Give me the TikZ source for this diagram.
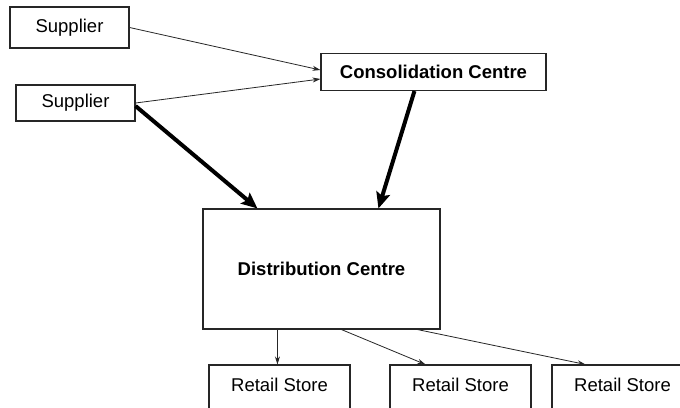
\documentclass[tikz,border=0pt]{standalone}
\usepackage{fontspec}
\setmainfont{Liberation Sans}
\usetikzlibrary{calc,arrows.meta}
\begin{document}
\begin{tikzpicture}[x=1pt,y=-1pt,
  lbl/.style={font=\fontsize{18.5}{21}\selectfont},
  box/.style={draw=black!85,line width=1.1pt,rectangle,inner sep=0pt,lbl},
  thin/.style={draw=black!85,line width=0.8pt,-{Stealth[length=8pt,width=5pt]}},
  thick/.style={draw=black,line width=4pt,-{Stealth[length=16pt,width=14pt,inset=3pt]}}]
\useasboundingbox (0,0) rectangle (680,407);
\clip (0,0) rectangle (680,407);
\fill[white] (0,0) rectangle (680,407);
\node[box,minimum width=119pt,minimum height=41pt] (s1) at (69.5,27.5) {Supplier};
\node[box,minimum width=119pt,minimum height=36pt] (s2) at (75.5,103) {Supplier};
\node[box,minimum width=225pt,minimum height=37pt,font=\fontsize{18.5}{21}\selectfont\bfseries] (cc) at (433.5,72) {Consolidation Centre};
\node[box,minimum width=237pt,minimum height=120pt,font=\fontsize{18.5}{21}\selectfont\bfseries] (dc) at (321.5,269) {Distribution Centre};
\node[box,minimum width=141pt,minimum height=44pt] (r1) at (279.5,387) {};
\node[box,minimum width=141pt,minimum height=44pt] (r2) at (460.5,387) {};
\node[box,minimum width=141pt,minimum height=44pt] (r3) at (622.5,387) {};
\node[lbl] (t1) at (279.5,385) {Retail Store};
\node[lbl] (t2) at (460.5,385) {Retail Store};
\node[lbl] (t3) at (622.5,385) {Retail Store};
\draw[thin] (s1.east) -- ($(cc.west)+(0,-2)$);
\draw[thin] (s2.east) -- ($(cc.west)+(0,7)$);
\draw[thick] ($(s2.east)+(0,3)$) -- ($(dc.north west)+(55,0)$);
\draw[thick] ($(cc.south west)+(94,0)$) -- ($(dc.north west)+(176,0)$);
\draw[thin] ($(dc.south west)+(75,0)$) -- ($(r1.north west)+(69,0)$);
\draw[thin] ($(dc.south west)+(139,0)$) -- ($(r2.north west)+(36,0)$);
\draw[thin] ($(dc.south west)+(215,0)$) -- ($(r3.north west)+(34,0)$);
\end{tikzpicture}
\end{document}
